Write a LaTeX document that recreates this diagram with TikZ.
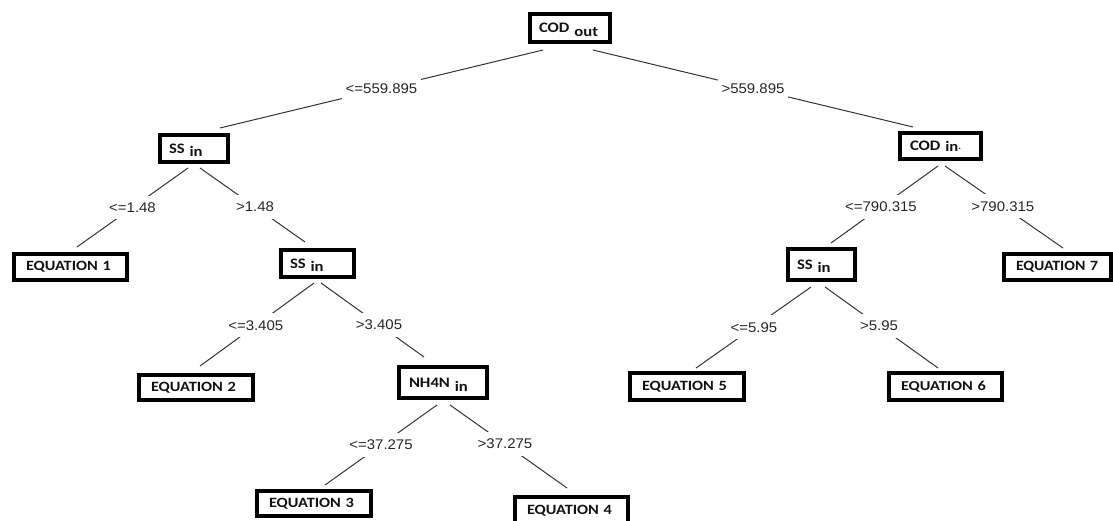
\documentclass[tikz,border=0pt]{standalone}
\usepackage{graphicx}
\usepackage{fontspec}
\usetikzlibrary{calc}
\newfontfamily\boxfont{Carlito}[FakeStretch=1.15, BoldFeatures={FakeStretch=1.15}]
\newfontfamily\lblfont{Liberation Sans}[FakeStretch=1.07]
\definecolor{linegray}{HTML}{333333}
\definecolor{txtgray}{HTML}{262626}
\newcommand{\lowr}[2]{\raisebox{-#1}[0pt][0pt]{#2}}
\newcommand{\eqtxt}[2][85pt]{\resizebox{#1}{9.3pt}{EQUATION #2}}
\tikzset{
  tbox/.style 2 args={draw=black, line width=4pt, inner xsep=#2, inner ysep=0pt,
    text width=#1, align=left, font=\boxfont\bfseries\fontsize{14.5}{16}\selectfont,
    text=black!93},
  lbl/.style={fill=white, inner xsep=4pt, inner ysep=7pt, text=txtgray,
    font=\lblfont\fontsize{14}{16}\selectfont},
  conn/.style={draw=linegray, line width=1pt},
}
\begin{document}
\begin{tikzpicture}[x=1pt,y=-1pt]
\useasboundingbox (0,0) rectangle (1113,520);
\clip (0,0) rectangle (1113,520);
% boxes (outer width W, height H): text width = W-4-2*pad, minimum height = H-4
\node[tbox={62pt}{9pt}, minimum height=28pt] (cod) at (570,28) {COD \lowr{3.5pt}{out}};
\node[tbox={50pt}{9pt}, minimum height=27pt] (ss1) at (194,148.5) {SS \lowr{3.5pt}{in}};
\node[tbox={89pt}{12pt}, minimum height=26pt] (eq1) at (70.5,267) {\eqtxt{1}};
\node[tbox={55pt}{9pt}, minimum height=27pt] (ss2) at (317.5,263.5) {SS \lowr{3.5pt}{in}};
\node[tbox={90pt}{12pt}, minimum height=25pt] (eq2) at (196,387.5) {\eqtxt{2}};
\node[tbox={68pt}{10pt}, minimum height=31pt] (nh) at (443,382.5) {NH4N \lowr{4pt}{in}};
\node[tbox={90pt}{12pt}, minimum height=25pt] (eq3) at (314,503.5) {\eqtxt{3}};
\node[tbox={89pt}{12pt}, minimum height=27pt] (eq4) at (571.5,510.5) {\eqtxt{4}};
\node[tbox={61pt}{10pt}, minimum height=26pt] (codin) at (940.5,146) {COD \lowr{1pt}{in}\lowr{-1pt}{\fontsize{9}{9}\selectfont .}};
\node[tbox={49pt}{9pt}, minimum height=31pt] (ss3) at (821.5,264.5) {SS \lowr{3.5pt}{in}};
\node[tbox={83pt}{12pt}, minimum height=26pt] (eq7) at (1057.5,267) {\eqtxt[82pt]{7}};
\node[tbox={90pt}{12pt}, minimum height=27pt] (eq5) at (687,386.5) {\eqtxt{5}};
\node[tbox={89pt}{12pt}, minimum height=27pt] (eq6) at (945.5,386.5) {\eqtxt{6}};
% connectors
\draw[conn] ($(cod)+(-27,22)$) -- node[lbl,pos=0.5] (l1) {<=559.895} ($(ss1)+(26,-20.5)$);
\draw[conn] ($(cod)+(23,22)$) -- node[lbl,pos=0.5] (l2) {>559.895} ($(codin)+(-27.5,-19)$);
\draw[conn] ($(ss1)+(-6,19.5)$) -- node[lbl,pos=0.5] (l3) {<=1.48} ($(eq1)+(6.5,-20)$);
\draw[conn] ($(ss1)+(6,19.5)$) -- node[lbl,pos=0.524] (l4) {>1.48} ($(ss2)+(-12.5,-21.5)$);
\draw[conn] ($(ss2)+(-3.5,19.5)$) -- node[lbl,pos=0.511] (l5) {<=3.405} ($(eq2)+(4,-21.5)$);
\draw[conn] ($(ss2)+(3.5,19.5)$) -- node[lbl,pos=0.563] (l6) {>3.405} ($(nh)+(-19,-25.5)$);
\draw[conn] ($(nh)+(-6,22.5)$) -- node[lbl,pos=0.5] (l7) {<=37.275} ($(eq3)+(11,-18.5)$);
\draw[conn] ($(nh)+(7,22.5)$) -- node[lbl,pos=0.47] (l8) {>37.275} ($(eq4)+(-4.5,-22.5)$);
\draw[conn] ($(codin)+(-2.5,20)$) -- node[lbl,pos=0.533] (l9) {<=790.315} ($(ss3)+(9.5,-21.5)$);
\draw[conn] ($(codin)+(4.5,20)$) -- node[lbl,pos=0.49] (l10) {>790.315} ($(eq7)+(5.5,-19)$);
\draw[conn] ($(ss3)+(-10.5,22.5)$) -- node[lbl,pos=0.496] (l11) {<=5.95} ($(eq5)+(9,-18.5)$);
\draw[conn] ($(ss3)+(3.5,22.5)$) -- node[lbl,pos=0.478] (l12) {>5.95} ($(eq6)+(-7.5,-18.5)$);
\end{tikzpicture}
\end{document}
